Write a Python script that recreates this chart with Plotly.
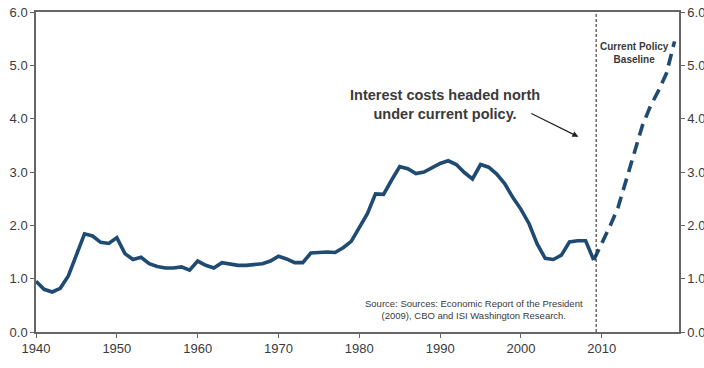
import plotly.graph_objects as go

# Historical interest costs (% of GDP), 1940-2009
hist_years = list(range(1940, 2010))
hist_values = [
    0.95, 0.80, 0.75, 0.82, 1.05, 1.45, 1.84, 1.80, 1.68, 1.66,
    1.77, 1.47, 1.36, 1.40, 1.28, 1.23, 1.20, 1.20, 1.22, 1.16,
    1.33, 1.25, 1.20, 1.30, 1.27, 1.25, 1.25, 1.26, 1.28, 1.33,
    1.42, 1.37, 1.30, 1.30, 1.48, 1.49, 1.50, 1.49, 1.58, 1.70,
    1.95, 2.22, 2.59, 2.58, 2.85, 3.10, 3.06, 2.97, 3.00, 3.08,
    3.16, 3.21, 3.14, 2.99, 2.87, 3.14, 3.09, 2.96, 2.78, 2.52,
    2.30, 2.03, 1.65, 1.38, 1.36, 1.44, 1.69, 1.71, 1.71, 1.35,
]

# Current policy baseline projection, 2009-2019
proj_years = list(range(2009, 2020))
proj_values = [1.35, 1.65, 1.98, 2.33, 2.84, 3.39, 3.86, 4.23, 4.52, 4.85, 5.45]

x_ticks = [1940, 1950, 1960, 1970, 1980, 1990, 2000, 2010]
y_ticks = [0, 1, 2, 3, 4, 5, 6]
baseline_year = 2009.3

LINE = "#1f4b73"
TXT = "#3a3a3a"
AX = "#666666"
FONT = "Liberation Sans Narrow, Arial Narrow, Liberation Sans, Arial, sans-serif"

fig = go.Figure()
fig.add_trace(go.Scatter(x=hist_years, y=hist_values, mode="lines",
                         line=dict(color=LINE, width=3.6), showlegend=False,
                         hoverinfo="skip"))
fig.add_trace(go.Scatter(x=proj_years, y=proj_values, mode="lines", yaxis="y2",
                         line=dict(color=LINE, width=3.6, dash="12px,7px"),
                         showlegend=False, hoverinfo="skip"))

fig.add_shape(type="line", x0=baseline_year, x1=baseline_year, y0=0, y1=6,
              xref="x", yref="y", line=dict(color="#222222", width=1, dash="3px,2px"))

fig.add_annotation(x=1990.6, y=4.26, xref="x", yref="y",
                   text="<b>Interest costs headed north<br>under current policy.</b>",
                   showarrow=False, font=dict(family=FONT, size=14.5, color=TXT),
                   align="center")
fig.add_annotation(x=2007.1, y=3.66, ax=2001.1, ay=4.11, xref="x", yref="y",
                   axref="x", ayref="y", text="", showarrow=True,
                   arrowhead=2, arrowsize=1, arrowwidth=1.2, arrowcolor="#222222")
fig.add_annotation(x=2014.1, y=5.23, xref="x", yref="y",
                   text="<b>Current Policy<br>Baseline</b>", showarrow=False,
                   font=dict(family=FONT, size=10, color=TXT), align="center")
fig.add_annotation(x=1994.2, y=0.43, xref="x", yref="y",
                   text="Source: Sources: Economic Report of the President<br>(2009), CBO and ISI Washington Research.",
                   showarrow=False, font=dict(family=FONT, size=9.5, color=TXT),
                   align="center")

axis_font = dict(family=FONT, size=13, color=TXT)
fig.update_layout(
    width=704, height=368,
    margin=dict(l=36, r=25, t=12, b=36),
    paper_bgcolor="white", plot_bgcolor="white",
    xaxis=dict(range=[1940, 2019.55], tickvals=x_ticks, showgrid=False,
               zeroline=False, showline=True, linecolor=AX, linewidth=1.5,
               mirror=True, ticks="outside", ticklen=4, tickcolor=AX,
               tickfont=axis_font, automargin=False),
    yaxis=dict(range=[0, 6], tickvals=y_ticks, tickformat=".1f", showgrid=False,
               zeroline=False, showline=True, linecolor=AX, linewidth=1.5,
               ticks="outside", ticklen=4, tickcolor=AX, tickfont=axis_font,
               automargin=False),
    yaxis2=dict(range=[0, 6], tickvals=y_ticks, tickformat=".1f", showgrid=False,
                zeroline=False, showline=True, linecolor=AX, linewidth=1.5,
                overlaying="y", side="right", ticks="outside", ticklen=4,
                tickcolor=AX, tickfont=axis_font, automargin=False),
)

fig.write_html("out.html")
